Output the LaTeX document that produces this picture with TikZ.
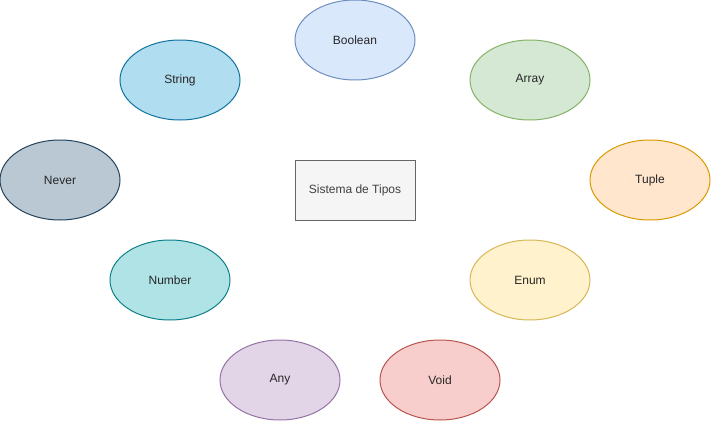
\documentclass[tikz,border=0pt]{standalone}
\usepackage{fontspec}
\setmainfont{Liberation Sans}
\usepackage{tikz}
\usetikzlibrary{shapes.geometric, positioning}
\usepackage{xcolor}

\definecolor{boolFill}{HTML}{DAE8FC}\definecolor{boolLine}{HTML}{6C8EBF}
\definecolor{strFill}{HTML}{B1DDF0}\definecolor{strLine}{HTML}{10739E}
\definecolor{arrFill}{HTML}{D5E8D4}\definecolor{arrLine}{HTML}{82B366}
\definecolor{nevFill}{HTML}{BAC8D3}\definecolor{nevLine}{HTML}{23445D}
\definecolor{tupFill}{HTML}{FFE6CC}\definecolor{tupLine}{HTML}{D79B00}
\definecolor{numFill}{HTML}{B0E3E6}\definecolor{numLine}{HTML}{0E8088}
\definecolor{enuFill}{HTML}{FFF2CC}\definecolor{enuLine}{HTML}{D6B656}
\definecolor{anyFill}{HTML}{E1D5E7}\definecolor{anyLine}{HTML}{9673A6}
\definecolor{voiFill}{HTML}{F8CECC}\definecolor{voiLine}{HTML}{B85450}
\definecolor{sysFill}{HTML}{F5F5F5}\definecolor{sysLine}{HTML}{666666}

\begin{document}
\begin{tikzpicture}[
    x=0.75pt, y=-0.75pt,
    tipo/.style={ellipse, draw, line width=0.75pt, minimum width=90pt, minimum height=60pt, inner sep=0pt, font=\fontsize{9}{11}\selectfont, text=black!85},
    sistema/.style={rectangle, draw=sysLine, fill=sysFill, line width=0.75pt, minimum width=90pt, minimum height=45pt, inner sep=0pt, font=\fontsize{9}{11}\selectfont, text=black!75}
]

% Canvas
\useasboundingbox (0,0) rectangle (711,421);

% Centre
\node[sistema] (sistema) at (355,190) {Sistema de Tipos};

% Top row
\node[tipo, draw=boolLine, fill=boolFill] (boolean) at (355,40) {Boolean};
\node[tipo, draw=strLine, fill=strFill] (string) at (180,80) {String};
\node[tipo, draw=arrLine, fill=arrFill] (array) at (530,80) {Array};

% Middle row
\node[tipo, draw=nevLine, fill=nevFill] (never) at (60,180) {Never};
\node[tipo, draw=tupLine, fill=tupFill] (tuple) at (650,180) {Tuple};

% Bottom rows
\node[tipo, draw=numLine, fill=numFill] (number) at (170,280) {Number};
\node[tipo, draw=enuLine, fill=enuFill] (enum) at (530,280) {Enum};
\node[tipo, draw=anyLine, fill=anyFill] (any) at (280,380) {Any};
\node[tipo, draw=voiLine, fill=voiFill] (void) at (440,380) {Void};

\end{tikzpicture}
\end{document}
